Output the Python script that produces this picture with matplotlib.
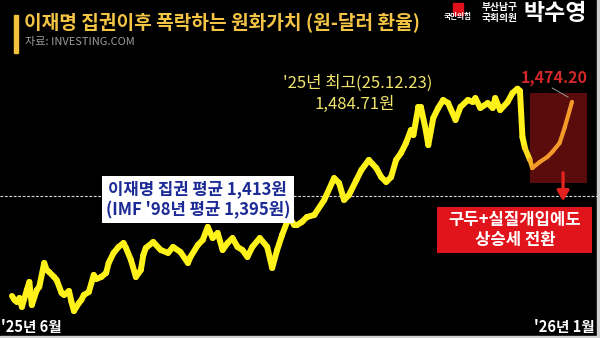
import numpy as np
import matplotlib.pyplot as plt
from matplotlib.collections import LineCollection
from matplotlib.patches import Rectangle
from matplotlib.colors import to_rgb

plt.rcParams['font.family'] = ['Noto Sans CJK KR', 'DejaVu Sans']

# days since 2025-06-02, USD/KRW
days = [0, 1, 2, 3, 4, 6, 7, 8, 10, 11, 13, 14, 15, 17, 18, 20, 21, 23, 24, 25,
        27, 28, 29, 31, 33, 34, 36, 38, 39, 41, 43, 45, 46, 48, 50, 52, 53, 54, 57, 60,
        63, 65, 68, 71, 72, 75, 77, 79, 81, 83, 85, 87, 89, 91, 93, 95, 97, 100, 103, 105,
        107, 109, 111, 112, 114, 115, 117, 119, 122, 126, 130, 132, 134, 136, 139, 141, 144, 147, 149, 151,
        153, 155, 157, 159, 161, 162, 164, 165, 167, 168, 170, 172, 174, 176, 179, 181, 184, 186, 187, 189,
        192, 194, 195, 197, 200, 202, 204, 205, 206, 207, 209, 210, 213, 216, 218, 221, 223, 226]
rate = [1344.5, 1341.8, 1340.4, 1343.1, 1337.0, 1348.6, 1354.1, 1338.3, 1348.6, 1350.7,
        1367.1, 1362.3, 1360.9, 1357.5, 1355.5, 1346.6, 1345.2, 1347.9, 1340.4, 1334.2,
        1339.7, 1341.8, 1345.2, 1347.2, 1358.9, 1356.1, 1357.5, 1360.3, 1367.1, 1374.0,
        1378.1, 1380.8, 1377.4, 1369.2, 1357.5, 1362.3, 1372.6, 1377.4, 1381.5, 1376.0,
        1374.0, 1378.1, 1374.6, 1367.1, 1371.2, 1379.4, 1382.9, 1391.8, 1384.2, 1387.7,
        1376.0, 1380.8, 1384.2, 1378.1, 1376.0, 1371.2, 1378.1, 1384.2, 1378.1, 1363.7,
        1376.0, 1386.3, 1395.2, 1397.9, 1393.1, 1393.1, 1395.2, 1398.6, 1400.0, 1410.3,
        1425.3, 1421.9, 1410.3, 1413.7, 1424.0, 1430.8, 1437.7, 1432.2, 1426.0, 1422.6,
        1426.0, 1437.7, 1442.5, 1449.3, 1458.2, 1454.8, 1474.0, 1474.0, 1458.2, 1447.9,
        1466.4, 1473.3, 1478.8, 1476.7, 1465.1, 1474.0, 1478.8, 1477.4, 1480.1, 1473.3,
        1476.7, 1473.3, 1480.1, 1471.9, 1477.4, 1483.6, 1486.5, 1485.0, 1453.4, 1445.9,
        1437.7, 1432.2, 1436.3, 1439.7, 1443.1, 1449.3, 1459.6, 1477.5]

avg_rate = 1413
peak_label = ["'25년 최고(25.12.23)", "1,484.71원"]
last_label = "1,474.20"
avg_text = "이재명 집권 평균 1,413원\n(IMF '98년 평균 1,395원)"
note_text = "구두+실질개입에도\n상승세 전환"
x_labels = ["'25년 6월", "'26년 1월"]

fig = plt.figure(figsize=(6, 3.38), dpi=100, facecolor='black')
ax = fig.add_axes([0, 0, 1, 1])
ax.set_facecolor('black')
ax.set_xlim(-4.84, 237.3)
ax.set_ylim(1315.7, 1547.3)
ax.axis('off')

d = np.array(days, dtype=float)
r = np.array(rate)

# shaded box over the last weeks
ax.add_patch(Rectangle((209, 1422), 232 - 209, 1483.6 - 1422,
                       facecolor='#5a0b0c', edgecolor='none', zorder=1))

ax.axhline(avg_rate, color='#d8d8d8', lw=0.8, ls=(0, (2.5, 1.5)), zorder=1)

# line: yellow, then orange after the intervention drop
pts = np.column_stack([d, r])
segs = np.stack([pts[:-1], pts[1:]], axis=1)
yel = np.array(to_rgb('#fff21a'))
org = np.array(to_rgb('#f39a2a'))
cols, lws = [], []
for i in range(len(segs)):
    t = np.clip((d[i] - 206) / 4.0, 0, 1)
    cols.append(tuple(yel * (1 - t) + org * t))
    lws.append(4.3 - 1.3 * t)
ax.add_collection(LineCollection(segs, colors=cols, linewidths=lws,
                                 capstyle='round', joinstyle='round', zorder=3))

# title block
fig.add_artist(Rectangle((14 / 600, 1 - 53 / 338), 4 / 600, 38 / 338,
                         transform=fig.transFigure, color='#f2c23c'))
fig.text(24 / 600, 1 - 22 / 338, "이재명 집권이후 폭락하는 원화가치 (원-달러 환율)",
         color='#f4c544', fontsize=13.8, fontweight='bold', va='center', ha='left')
fig.text(25 / 600, 1 - 42 / 338, "자료: INVESTING.COM", color='#9c9c9c',
         fontsize=8, va='center', ha='left')

# top-right name tag
fig.add_artist(Rectangle((453 / 600, 1 - 15 / 338), 10 / 600, 12 / 338,
                         transform=fig.transFigure, color='#e0101c'))
fig.text(500 / 600, 1 - 7 / 338, "부산남구", color='white', fontsize=7,
         fontweight='bold', va='center', ha='center')
fig.text(458 / 600, 1 - 17 / 338, "국민의힘", color='white', fontsize=5.5,
         fontweight='bold', va='center', ha='center')
fig.text(500 / 600, 1 - 18.5 / 338, "국회의원", color='white', fontsize=7,
         fontweight='bold', va='center', ha='center')
fig.text(555 / 600, 1 - 14 / 338, "박수영", color='white', fontsize=16.5,
         fontweight='bold', va='center', ha='center')

# annotations
ax.text(139.5, 1490.5, peak_label[0], color='#f1e56c', fontsize=12, ha='center',
        va='center')
ax.text(138.5, 1475.5, peak_label[1], color='#f1e56c', fontsize=12, ha='center',
        va='center')
ax.text(219, 1493.9, last_label, color='#d3272a', fontsize=11.5, fontweight='bold',
        ha='center', va='center')
ax.plot([218, 224.4], [1487, 1480.8], color='#9a9a9a', lw=0.7, zorder=4)

ax.text(75, 1410.5, avg_text, color='#1c2a96', fontsize=12, fontweight='bold',
        ha='center', va='center', linespacing=1.2, zorder=5,
        bbox=dict(boxstyle='square,pad=0.22', facecolor='white', edgecolor='none'))

ax.annotate('', xy=(222.4, 1407.5), xytext=(222.4, 1430.8),
            arrowprops=dict(arrowstyle='-|>,head_width=0.35,head_length=0.6',
                            color='#e3211e', lw=2.4), zorder=5)
ax.add_patch(Rectangle((171.5, 1373.9), 234.2 - 171.5, 1405.5 - 1373.9,
                       facecolor='#e2141b', edgecolor='none', zorder=4))
ax.text(203, 1389.7, note_text, color='white', fontsize=12, fontweight='bold',
        ha='center', va='center', linespacing=1.15, zorder=5)

fig.text(1 / 600, 1 - 327 / 338, x_labels[0], color='white', fontsize=10.5,
         fontweight='bold', va='center', ha='left')
fig.text(595 / 600, 1 - 327 / 338, x_labels[1], color='white', fontsize=10.5,
         fontweight='bold', va='center', ha='right')

# thin light border on right/bottom edge
fig.add_artist(Rectangle((597 / 600, 0), 3 / 600, 1, transform=fig.transFigure,
                         color='#d0d0d0'))
fig.add_artist(Rectangle((0, 0), 1, 2 / 338, transform=fig.transFigure,
                         color='#d0d0d0'))

fig.savefig('out.png', dpi=100, facecolor='black')
